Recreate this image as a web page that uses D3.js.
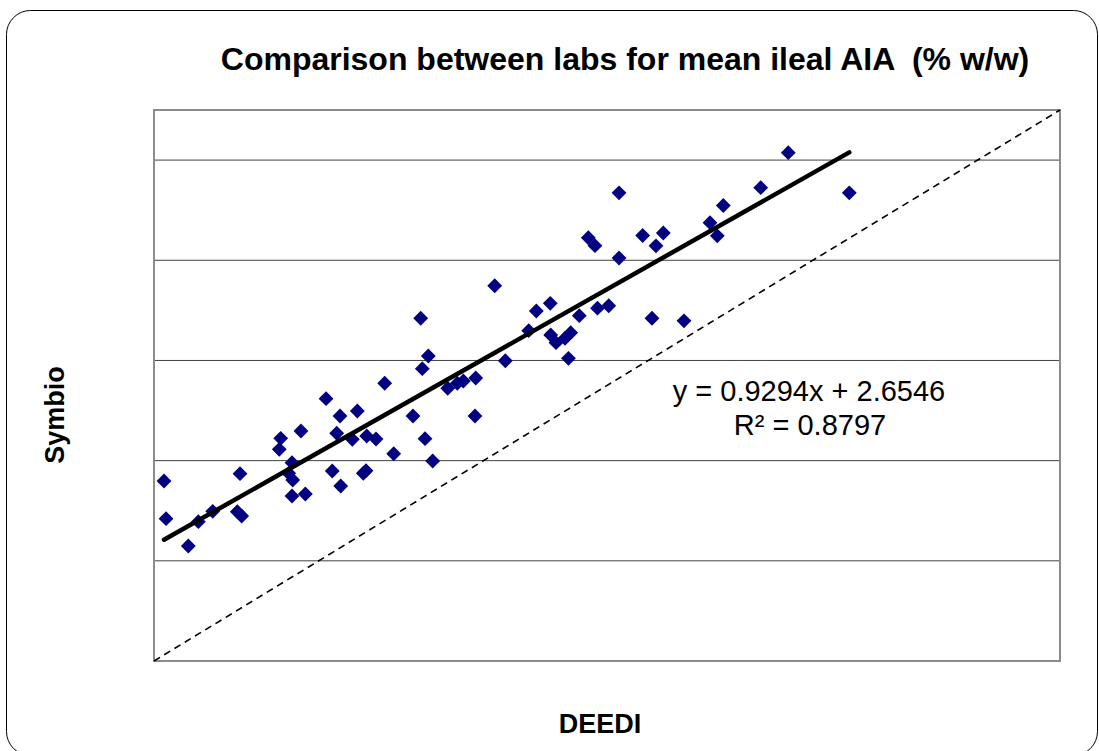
<!DOCTYPE html>
<html>
<head>
<meta charset="utf-8">
<script src="https://cdn.jsdelivr.net/npm/d3@7"></script>
<style>
  body { margin: 0; background: #fff; }
  text { font-family: Arial, "Liberation Sans", sans-serif; }
</style>
</head>
<body>
<div id="chart"></div>
<script>
// Mean ileal AIA (% w/w): DEEDI (x) vs Symbio (y)
const deedi = [
  0.140, 0.168, 0.479, 0.619, 0.820, 1.163, 1.224, 1.201, 1.749, 1.769,
  2.052, 1.927, 1.881, 1.937, 1.927, 2.113, 2.402, 2.597, 2.839, 2.551,
  2.769, 2.970, 3.100, 2.489, 2.607, 2.922, 2.960, 3.221, 3.347, 3.616,
  3.784, 3.891, 3.724, 3.830, 3.746, 4.101, 4.235, 4.319, 4.492, 4.482,
  4.757, 4.905, 5.232, 5.338, 5.533, 5.539, 5.613, 5.739, 5.818, 5.787,
  5.938, 6.192, 6.349, 6.064, 6.157, 6.493, 6.493, 6.823, 7.009, 7.111,
  6.953, 7.400, 7.763, 7.865, 7.949, 8.471, 8.856, 9.708
];
const symbio = [
  4.133, 3.267, 2.640, 3.198, 3.437, 3.428, 3.329, 4.300, 4.860, 5.113,
  5.280, 4.553, 4.309, 4.155, 3.788, 3.834, 6.022, 5.625, 5.740, 5.228,
  5.090, 5.166, 5.097, 4.362, 4.018, 4.309, 4.369, 6.376, 4.759, 5.625,
  5.104, 4.592, 7.868, 7.002, 6.711, 6.261, 6.376, 6.428, 6.497, 5.625,
  8.616, 6.894, 7.583, 8.035, 8.212, 7.484, 7.308, 7.409, 7.537, 6.949,
  7.928, 8.100, 8.155, 9.718, 9.535, 10.749, 9.252, 9.769, 9.532, 9.826,
  7.868, 7.810, 10.063, 9.762, 10.458, 10.866, 11.670, 10.749
];

// Linear trend reported on the chart
const trendSlope = 0.9294;
const trendIntercept = 2.6546;
const trendLabel = "y = 0.9294x + 2.6546";
const r2Label = "R\u00b2 = 0.8797";

// Axis range (labels hidden in the original) and horizontal gridlines
const axisMax = 12.65;
const gridValues = [2.3, 4.6, 6.9, 9.2, 11.5];

const width = 1099, height = 751;
const margin = { top: 110, right: 39, bottom: 90, left: 154 };
const plotW = width - margin.left - margin.right;
const plotH = height - margin.top - margin.bottom;

const svg = d3.select("#chart")
  .append("svg")
  .attr("width", width)
  .attr("height", height);

// outer chart border with rounded corners
svg.append("rect")
  .attr("x", 6.5).attr("y", 10.5)
  .attr("width", 1091).attr("height", 745)
  .attr("rx", 24)
  .attr("fill", "#fff")
  .attr("stroke", "#000")
  .attr("stroke-width", 1);

const x = d3.scaleLinear().domain([0, axisMax]).range([0, plotW]);
const y = d3.scaleLinear().domain([0, axisMax]).range([plotH, 0]);

const g = svg.append("g")
  .attr("transform", `translate(${margin.left},${margin.top})`);

// gridlines
g.selectAll(".grid")
  .data(gridValues)
  .join("line")
  .attr("class", "grid")
  .attr("x1", 0).attr("x2", plotW)
  .attr("y1", d => y(d)).attr("y2", d => y(d))
  .attr("stroke", "#404040")
  .attr("stroke-width", 1);

// plot area frame
g.append("rect")
  .attr("x", 0).attr("y", 0)
  .attr("width", plotW).attr("height", plotH)
  .attr("fill", "none")
  .attr("stroke", "#8c8c8c")
  .attr("stroke-width", 2);

// 1:1 reference line
g.append("line")
  .attr("x1", x(0)).attr("y1", y(0))
  .attr("x2", x(axisMax)).attr("y2", y(axisMax))
  .attr("stroke", "#000")
  .attr("stroke-width", 1.6)
  .attr("stroke-dasharray", "7,5");

// points
const pts = deedi.map((d, i) => ({ x: d, y: symbio[i] }));

g.selectAll(".pt")
  .data(pts)
  .join("path")
  .attr("class", "pt")
  .attr("d", d3.symbol(d3.symbolSquare, 110))
  .attr("transform", d => `translate(${x(d.x)},${y(d.y)}) rotate(45)`)
  .attr("fill", "#000080");

// trend line across the data range
const xExt = d3.extent(deedi);
g.append("line")
  .attr("x1", x(xExt[0])).attr("y1", y(trendSlope * xExt[0] + trendIntercept))
  .attr("x2", x(xExt[1])).attr("y2", y(trendSlope * xExt[1] + trendIntercept))
  .attr("stroke", "#000")
  .attr("stroke-width", 4.5)
  .attr("stroke-linecap", "round");

// equation labels
svg.append("text")
  .attr("x", 809).attr("y", 401)
  .attr("text-anchor", "middle")
  .style("font-size", "29px")
  .text(trendLabel);

svg.append("text")
  .attr("x", 810).attr("y", 435)
  .attr("text-anchor", "middle")
  .style("font-size", "29px")
  .text(r2Label);

// title
svg.append("text")
  .attr("x", 625).attr("y", 70)
  .attr("text-anchor", "middle")
  .style("font-size", "32px")
  .style("font-weight", "bold")
  .style("white-space", "pre")
  .text("Comparison between labs for mean ileal AIA  (% w/w)");

// axis titles
svg.append("text")
  .attr("x", 600).attr("y", 733)
  .attr("text-anchor", "middle")
  .style("font-size", "27px")
  .style("font-weight", "bold")
  .text("DEEDI");

svg.append("text")
  .attr("transform", "translate(64,415) rotate(-90)")
  .attr("text-anchor", "middle")
  .style("font-size", "27px")
  .style("font-weight", "bold")
  .text("Symbio");
</script>
</body>
</html>
